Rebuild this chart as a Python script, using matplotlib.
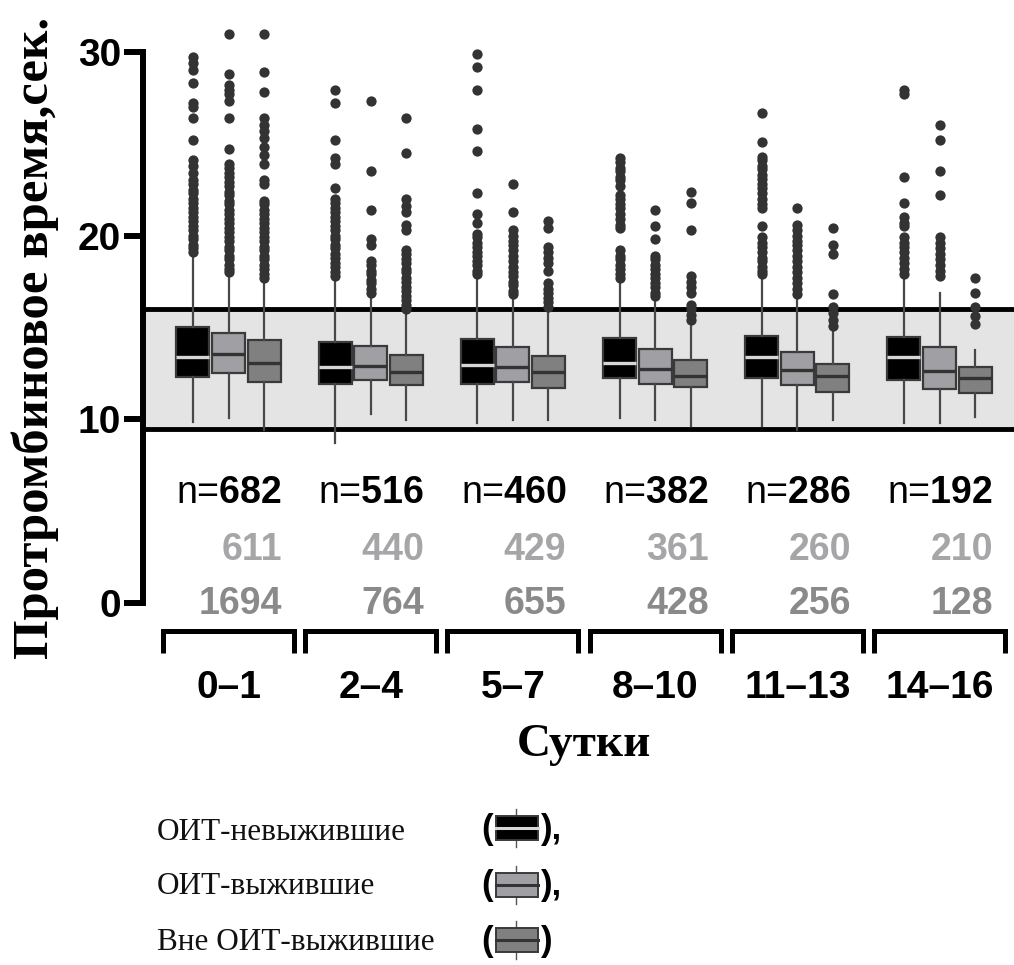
import matplotlib
matplotlib.use("Agg")
import matplotlib.pyplot as plt
from matplotlib import font_manager
from matplotlib.patches import Rectangle

# ---------------- data ----------------
groups = ["0–1", "2–4", "5–7", "8–10", "11–13", "14–16"]
series = ["ОИТ-невыжившие", "ОИТ-выжившие", "Вне ОИТ-выжившие"]

n_nonsurv = [682, 516, 460, 382, 286, 192]
n_icu_surv = [611, 440, 429, 361, 260, 210]
n_out_surv = [1694, 764, 655, 428, 256, 128]

# ОИТ-невыжившие
med_a = [13.40, 12.86, 12.95, 13.05, 13.37, 13.40]
q1_a = [12.32, 11.92, 11.92, 12.23, 12.23, 12.14]
q3_a = [15.03, 14.22, 14.35, 14.40, 14.53, 14.46]
lo_a = [9.88, 8.71, 9.79, 10.06, 9.61, 9.79]
hi_a = [18.9, 17.65, 17.8, 17.5, 17.7, 17.7]
fl_a = [
    [29.7, 29.4, 29.0, 28.3, 27.2, 27.0, 26.4, 25.2, 24.1, 23.8, 23.4, 23.0, 22.8, 22.5,
     22.3, 22.0, 21.8, 21.5, 21.3, 21.0, 20.8, 20.5, 20.3, 20.0, 19.8, 19.5, 19.3, 19.1],
    [27.9, 27.2, 25.2, 24.2, 23.9, 22.6, 22.0, 21.8, 21.5, 21.3, 21.0, 20.8, 20.5, 20.3,
     20.0, 19.8, 19.5, 19.3, 19.0, 18.8, 18.5, 18.3, 18.0, 17.8],
    [29.9, 29.2, 27.9, 25.8, 24.6, 22.3, 21.2, 20.7, 20.1, 19.9, 19.6, 19.4, 19.1, 18.9,
     18.6, 18.4, 18.1, 17.9],
    [24.2, 24.0, 23.7, 23.5, 23.2, 23.0, 22.7, 22.2, 22.0, 21.7, 21.5, 21.2, 20.9, 20.6,
     20.4, 19.2, 18.9, 18.7, 18.4, 18.2, 17.9, 17.7],
    [26.7, 25.1, 24.3, 24.1, 23.8, 23.6, 23.3, 23.1, 22.8, 22.6, 22.3, 22.0, 21.7, 21.5,
     20.5, 19.9, 19.6, 19.4, 19.1, 18.8, 18.6, 18.3, 18.1, 17.9],
    [27.9, 27.7, 23.2, 21.8, 21.0, 20.7, 20.5, 19.9, 19.6, 19.4, 19.1, 18.8, 18.5, 18.2, 17.9],
]

# ОИТ-выжившие
med_b = [13.53, 12.92, 12.83, 12.74, 12.68, 12.65]
q1_b = [12.54, 12.14, 12.05, 11.92, 11.87, 11.64]
q3_b = [14.72, 14.00, 13.95, 13.80, 13.68, 13.95]
lo_b = [10.06, 10.28, 9.97, 9.97, 9.43, 9.79]
hi_b = [17.9, 16.7, 16.6, 16.4, 16.5, 16.9]
fl_b = [
    [31.0, 28.8, 28.2, 27.9, 27.7, 27.3, 26.4, 24.7, 23.9, 23.7, 23.4, 23.2, 22.9, 22.7,
     22.4, 22.2, 21.9, 21.7, 21.4, 21.2, 20.9, 20.7, 20.4, 20.2, 19.9, 19.7, 19.4, 19.2,
     18.9, 18.7, 18.4, 18.2, 18.0],
    [27.3, 23.5, 21.4, 19.8, 19.5, 18.6, 18.4, 18.1, 17.9, 17.6, 17.4, 17.1, 16.9],
    [22.8, 21.3, 20.3, 20.0, 19.7, 19.5, 19.2, 18.9, 18.6, 18.3, 18.0, 17.8, 17.5, 17.3,
     17.0, 16.8],
    [21.4, 20.5, 19.8, 18.9, 18.7, 18.4, 18.2, 17.9, 17.7, 17.4, 17.2, 16.9, 16.7],
    [21.5, 20.6, 20.3, 20.0, 19.7, 19.5, 19.2, 18.9, 18.6, 18.3, 18.0, 17.7, 17.4, 17.1, 16.8],
    [26.0, 25.2, 23.5, 22.2, 19.9, 19.6, 19.3, 19.0, 18.7, 18.4, 18.1, 17.8],
]

# Вне ОИТ-выжившие
med_c = [13.04, 12.56, 12.56, 12.37, 12.36, 12.23]
q1_c = [12.05, 11.87, 11.69, 11.74, 11.51, 11.42]
q3_c = [14.31, 13.50, 13.44, 13.22, 13.01, 12.83]
lo_c = [9.43, 9.97, 9.97, 9.61, 9.97, 10.15]
hi_c = [17.5, 15.9, 15.8, 15.2, 15.0, 13.77]
fl_c = [
    [31.0, 28.9, 27.8, 26.4, 26.0, 25.7, 25.3, 24.8, 24.4, 23.9, 23.0, 22.8, 21.9, 21.7,
     21.4, 21.2, 20.9, 20.7, 20.4, 20.2, 19.9, 19.7, 19.4, 19.2, 18.9, 18.7, 18.4, 18.2,
     17.9, 17.7],
    [26.4, 24.5, 22.0, 21.6, 21.3, 20.6, 20.3, 19.2, 19.0, 18.7, 18.5, 18.2, 18.0, 17.7,
     17.5, 17.2, 17.0, 16.7, 16.5, 16.2, 16.0],
    [20.8, 20.4, 19.4, 19.1, 18.8, 18.5, 18.1, 17.4, 17.1, 16.9, 16.6, 16.4, 16.1],
    [22.4, 21.8, 20.3, 17.8, 17.5, 17.2, 16.9, 16.2, 16.0, 15.7, 15.4],
    [20.4, 19.5, 19.0, 16.8, 16.1, 15.8, 15.4, 15.1],
    [17.7, 16.9, 16.1, 15.6, 15.2],
]

ref_low, ref_high = 9.45, 16.0
yticks = [0, 10, 20, 30]

# ---------------- fonts ----------------
avail = {f.name for f in font_manager.fontManager.ttflist}
narrow = "Liberation Sans Narrow" if "Liberation Sans Narrow" in avail else None
sans = "Liberation Sans"
serif = "Liberation Serif"
plt.rcParams["font.family"] = [sans, "DejaVu Sans"]
plt.rcParams["mathtext.fontset"] = "custom"
plt.rcParams["mathtext.rm"] = sans
plt.rcParams["mathtext.bf"] = sans + ":bold"

tick_font = dict(family=narrow, size=32, weight="bold") if narrow else dict(family=sans, size=28, weight="bold")
grp_font = dict(family=narrow, size=31, weight="bold") if narrow else dict(family=sans, size=28, weight="bold")

# ---------------- figure ----------------
W, H = 1014, 965
fig = plt.figure(figsize=(W / 100, H / 100), dpi=100)

y0_px, ppu = 603.0, 18.37          # pixel of value 0, pixels per unit
ytop = 31.6
x_left_px, g0_px, gstep = 142.7, 228.5, 142.2
xmin = (x_left_px - g0_px) / gstep
xmax = (W - g0_px) / gstep
ax = fig.add_axes([x_left_px / W, (H - y0_px) / H, 1 - x_left_px / W,
                   (ytop * ppu) / H])
ax.set_xlim(xmin, xmax)
ax.set_ylim(0, ytop)

# reference band
ax.axhspan(ref_low, ref_high, facecolor="#e4e4e4", edgecolor="none", zorder=0)
for yv in (ref_low, ref_high):
    ax.axhline(yv, color="black", lw=3.5, zorder=1)

styles = [
    dict(face="#000000", med="#d6d6d6"),
    dict(face="#a0a0a4", med="#333333"),
    dict(face="#808080", med="#333333"),
]
offsets = [-0.25, 0.0, 0.25]
bw = 0.232
all_stats = [
    (med_a, q1_a, q3_a, lo_a, hi_a, fl_a),
    (med_b, q1_b, q3_b, lo_b, hi_b, fl_b),
    (med_c, q1_c, q3_c, lo_c, hi_c, fl_c),
]
for s, (med, q1, q3, lo, hi, fl) in enumerate(all_stats):
    stats = [dict(med=med[i], q1=q1[i], q3=q3[i], whislo=lo[i], whishi=hi[i],
                  fliers=fl[i]) for i in range(len(groups))]
    pos = [i + offsets[s] for i in range(len(groups))]
    ax.bxp(stats, positions=pos, widths=bw, patch_artist=True, showcaps=False,
           boxprops=dict(facecolor=styles[s]["face"], edgecolor="#3a3a3a", linewidth=1.6),
           whiskerprops=dict(color="#484848", linewidth=1.6),
           medianprops=dict(color=styles[s]["med"], linewidth=2.4),
           flierprops=dict(marker="o", markersize=7.4, markerfacecolor="#333333",
                           markeredgecolor="none", linestyle="none"),
           manage_ticks=False, zorder=3)

# axes styling
for sp in ("top", "right", "bottom"):
    ax.spines[sp].set_visible(False)
ax.spines["left"].set_linewidth(4.3)
ax.spines["left"].set_bounds(0, 30)
ax.set_xticks([])
ax.set_yticks(yticks)
ax.set_yticklabels([str(t) for t in yticks], fontdict=tick_font)
ax.tick_params(axis="y", length=14, width=4.3, pad=1.5)

# n labels
def y_of(px):
    return (y0_px - px) / ppu

for i in range(len(groups)):
    xr = i + 0.376
    ax.text(xr, y_of(493), "n=$\\mathbf{%d}$" % n_nonsurv[i], ha="right", va="center",
            fontsize=27, color="black", family=sans)
    ax.text(xr, y_of(550), str(n_icu_surv[i]), ha="right", va="center", fontsize=27,
            weight="bold", color="#a6a6a8", family=sans)
    ax.text(xr, y_of(603.5), str(n_out_surv[i]), ha="right", va="center", fontsize=27,
            weight="bold", color="#8a8a8a", family=sans)
    # bracket
    ax.plot([i - 0.46, i - 0.46, i + 0.46, i + 0.46],
            [y_of(652.7), y_of(630.5), y_of(630.5), y_of(652.7)],
            color="black", lw=3.6, clip_on=False, solid_joinstyle="miter",
            solid_capstyle="butt")
    ax.text(i, y_of(688), groups[i], ha="center", va="center", **grp_font)

ax.text(2.5, y_of(745), "Сутки", ha="center", va="center", family=serif,
        weight="bold", fontsize=34)

fig.text(35 / W, 1 - 338 / H, "Протромбиновое время,сек.", rotation=90,
         ha="center", va="center", family=serif, weight="bold", fontsize=36.5)

# legend (pixel-coordinate overlay)
oax = fig.add_axes([0, 0, 1, 1], zorder=5)
oax.set_xlim(0, W)
oax.set_ylim(H, 0)
oax.axis("off")
leg_y = [832, 887, 942]
icon_y = [828, 885, 940]
closers = ["),", "),", ")"]
for s in range(3):
    oax.text(157, leg_y[s], series[s], ha="left", va="center", family=serif,
             fontsize=22.5, color="#111111")
    cy = icon_y[s]
    oax.plot([516, 516], [cy - 19, cy + 19], color="#555555", lw=1.0)
    oax.add_patch(Rectangle((496, cy - 12), 42, 24, facecolor=styles[s]["face"],
                            edgecolor="#3a3a3a", lw=1.4, zorder=3))
    oax.plot([496, 538], [cy, cy], color=styles[s]["med"], lw=2.2, zorder=4)
    oax.text(493, cy + 1, "(", ha="right", va="center", family=sans, fontsize=25,
             weight="bold")
    oax.text(541, cy + 1, closers[s], ha="left", va="center", family=sans, fontsize=25,
             weight="bold")

fig.savefig("out.png", dpi=100)
